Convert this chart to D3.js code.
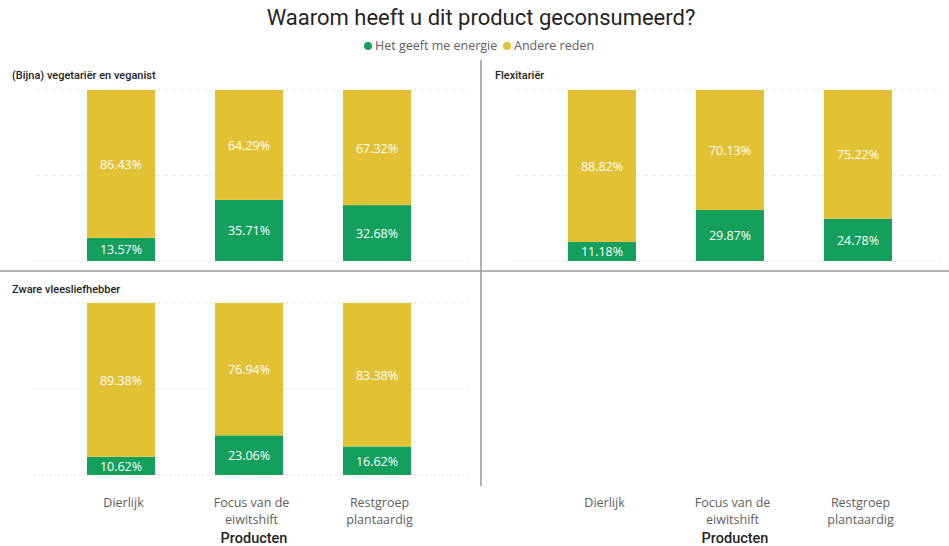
<!DOCTYPE html>
<html>
<head>
<meta charset="utf-8">
<script src="https://cdn.jsdelivr.net/npm/d3@7"></script>
<style>
  body { margin: 0; background: #fff; }
  svg { display: block; }
</style>
</head>
<body>
<script>
var segments = ["(Bijna) vegetariër en veganist", "Flexitariër", "Zware vleesliefhebber"];
var products = ["Dierlijk", "Focus van de eiwitshift", "Restgroep plantaardig"];
var productLines = {
    "Dierlijk": ["Dierlijk"],
    "Focus van de eiwitshift": ["Focus van de", "eiwitshift"],
    "Restgroep plantaardig": ["Restgroep", "plantaardig"]
};
var series = ["Het geeft me energie", "Andere reden"];
var energie = [
    [13.57, 35.71, 32.68],
    [11.18, 29.87, 24.78],
    [10.62, 23.06, 16.62]
];
var andere = [
    [86.43, 64.29, 67.32],
    [88.82, 70.13, 75.22],
    [89.38, 76.94, 83.38]
];
var yTicks = [0, 50, 100];

var w = 949,
    h = 546;

var colors = { green: "#14a05c", yellow: "#e2c234" };

var svg = d3.select("body")
    .append("svg")
    .attr("width", w)
    .attr("height", h);

// title
svg.append("text")
    .attr("x", 481)
    .attr("y", 25)
    .attr("text-anchor", "middle")
    .attr("font-family", "Roboto, sans-serif")
    .attr("font-size", 22)
    .attr("fill", "#252423")
    .text("Waarom heeft u dit product geconsumeerd?");

// legend
var legend = svg.append("g").attr("font-family", "'Open Sans', sans-serif").attr("font-size", 12.5);
var lx = [368, 507];
series.forEach(function (s, i) {
    legend.append("circle")
        .attr("cx", lx[i])
        .attr("cy", 46)
        .attr("r", 4)
        .attr("fill", i == 0 ? colors.green : colors.yellow);
    legend.append("text")
        .attr("x", lx[i] + 7)
        .attr("y", 50)
        .attr("fill", "#605e5c")
        .text(s);
});

// panel frames
svg.append("line")
    .attr("x1", 481).attr("x2", 481)
    .attr("y1", 60).attr("y2", 486)
    .attr("stroke", "#999").attr("stroke-width", 1.5);
svg.append("line")
    .attr("x1", 0).attr("x2", w)
    .attr("y1", 271).attr("y2", 271)
    .attr("stroke", "#999").attr("stroke-width", 1.5);

var cols = [
    { range: [57, 441], grid: [35, 470] },
    { range: [538, 922], grid: [515, 940] }
];
var rows = [
    { top: 90, bottom: 261, label: 79 },
    { top: 303, bottom: 475, label: 293 }
];
var barW = 68;

var panels = [
    { seg: 0, col: 0, row: 0, lx: 12 },
    { seg: 1, col: 1, row: 0, lx: 495 },
    { seg: 2, col: 0, row: 1, lx: 12 }
];

panels.forEach(function (p) {
    var x = d3.scalePoint().domain(products).range(cols[p.col].range).padding(0.5);
    var y = d3.scaleLinear().domain([0, 100]).range([rows[p.row].bottom, rows[p.row].top]);
    var g = svg.append("g");

    g.append("text")
        .attr("x", p.lx)
        .attr("y", rows[p.row].label)
        .attr("font-family", "Roboto, sans-serif")
        .attr("font-weight", 500)
        .attr("font-size", 11)
        .attr("fill", "#252423")
        .text(segments[p.seg]);

    g.selectAll(".grid")
        .data(yTicks)
        .enter()
        .append("line")
        .attr("x1", cols[p.col].grid[0])
        .attr("x2", cols[p.col].grid[1])
        .attr("y1", function (d) { return y(d); })
        .attr("y2", function (d) { return y(d); })
        .attr("stroke", "#d0d0d0")
        .attr("stroke-dasharray", "1,3");

    var data = products.map(function (pr, i) {
        return { product: pr, e: energie[p.seg][i], a: andere[p.seg][i] };
    });

    // green (bottom)
    g.selectAll(".eb")
        .data(data)
        .enter()
        .append("rect")
        .attr("x", function (d) { return x(d.product) - barW / 2; })
        .attr("y", function (d) { return y(d.e); })
        .attr("width", barW)
        .attr("height", function (d) { return y(0) - y(d.e); })
        .attr("fill", colors.green);

    // yellow (top)
    g.selectAll(".ab")
        .data(data)
        .enter()
        .append("rect")
        .attr("x", function (d) { return x(d.product) - barW / 2; })
        .attr("y", function (d) { return y(d.e + d.a); })
        .attr("width", barW)
        .attr("height", function (d) { return y(d.e) - y(d.e + d.a); })
        .attr("fill", colors.yellow);

    var lab = g.append("g")
        .attr("font-family", "'Open Sans', sans-serif")
        .attr("font-size", 12.5)
        .attr("fill", "#ffffff")
        .attr("text-anchor", "middle");

    lab.selectAll(".el")
        .data(data)
        .enter()
        .append("text")
        .attr("x", function (d) { return x(d.product); })
        .attr("y", function (d) { return (y(0) + y(d.e)) / 2 + 5; })
        .text(function (d) { return d.e.toFixed(2) + "%"; });

    lab.selectAll(".al")
        .data(data)
        .enter()
        .append("text")
        .attr("x", function (d) { return x(d.product); })
        .attr("y", function (d) { return (y(d.e) + y(d.e + d.a)) / 2 + 5; })
        .text(function (d) { return d.a.toFixed(2) + "%"; });
});

// bottom axes for both columns
cols.forEach(function (c) {
    var x = d3.scalePoint().domain(products).range(c.range).padding(0.5);
    var ax = svg.append("g")
        .attr("transform", "translate(2,490)")
        .call(d3.axisBottom(x).tickSize(0).tickPadding(0));
    ax.select(".domain").remove();
    ax.selectAll("text").each(function (d) {
        var t = d3.select(this);
        t.text(null)
            .attr("y", 0)
            .attr("dy", null)
            .attr("font-family", "'Open Sans', sans-serif")
            .attr("font-size", 12.5)
            .attr("fill", "#605e5c");
        productLines[d].forEach(function (line, i) {
            t.append("tspan")
                .attr("x", 0)
                .attr("y", 17 + i * 17)
                .text(line);
        });
    });
    svg.append("text")
        .attr("x", (c.range[0] + c.range[1]) / 2 + 5)
        .attr("y", 543)
        .attr("text-anchor", "middle")
        .attr("font-family", "Roboto, sans-serif")
        .attr("font-weight", 500)
        .attr("font-size", 14.5)
        .attr("fill", "#252423")
        .text("Producten");
});
</script>
</body>
</html>
